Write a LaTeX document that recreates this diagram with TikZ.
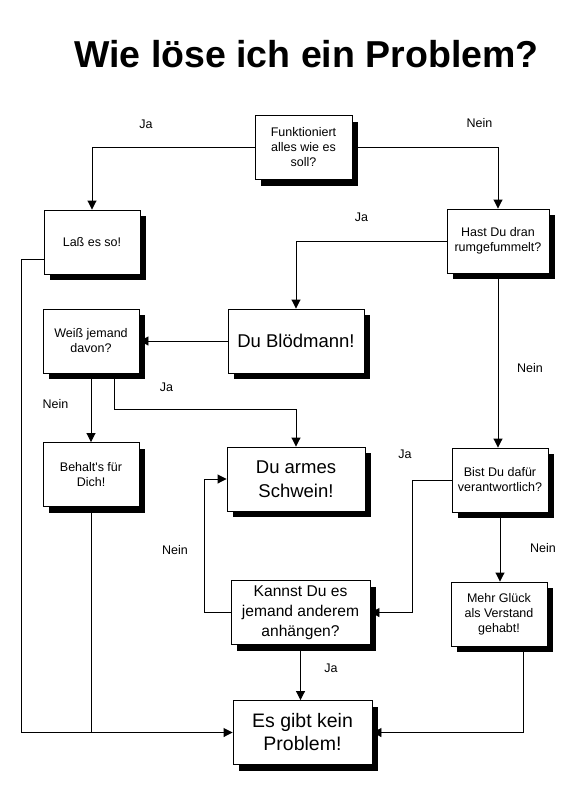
\documentclass[tikz,border=0pt]{standalone}
\usepackage{fontspec}
\setmainfont{Liberation Sans}
\usetikzlibrary{arrows.meta,shadows,calc}

\begin{document}
\begin{tikzpicture}[
  x=1pt, y=-1pt,
  line width=0.9pt,
  box/.style={draw, fill=white, align=center, minimum width=96pt,
              minimum height=64pt, inner sep=2pt,
              font=\fontsize{12.5}{15}\selectfont,
              drop shadow={shadow xshift=6pt, shadow yshift=-6pt,
                           fill=black, opacity=1}},
  bigbox/.style={box, minimum width=138pt, font=\fontsize{18.5}{24}\selectfont},
  lbl/.style={font=\fontsize{12.5}{15}\selectfont, inner sep=0pt},
  >={Triangle[length=9pt,width=9pt]}
]
\useasboundingbox (0,0) rectangle (579,812);

\node[font=\fontsize{37.5}{45}\selectfont\bfseries, anchor=base] (title)
  at (306.5,67) {Wie löse ich ein Problem?};

\node[box, minimum width=97pt] (funk) at (303.5,147.5) {Funktioniert\\alles wie es\\soll?};
\node[box] (lass) at (92,242) {Laß es so!};
\node[box, minimum width=102pt] (hast) at (498,241) {Hast Du dran\\rumgefummelt?};
\node[bigbox, minimum width=136pt] (bloed) at (296,341) {Du Blödmann!};
\node[box] (weiss) at (91,341) {Weiß jemand\\davon?};
\node[box] (behalt) at (91,474.5) {Behalt\textquotesingle s für\\Dich!};
\node[bigbox] (armes) at (296,479) {Du armes\\Schwein!};
\node[box] (bist) at (500,480) {Bist Du dafür\\verantwortlich?};
\node[bigbox, minimum width=139pt, font=\fontsize{15.6}{20}\selectfont] (kannst)
  at (300.5,612.5) {Kannst Du es\\jemand anderem\\anhängen?};
\node[box] (mehr) at (499,614) {Mehr Glück\\als Verstand\\gehabt!};
\node[bigbox, minimum width=139pt, font=\fontsize{19.5}{23}\selectfont] (problem)
  at (302.5,732.5) {Es gibt kein\\Problem!};

\draw[->] (funk.west) -| (lass.north);
\draw[->] (funk.east) -| (hast.north);
\draw[->] (hast.west) -| (bloed.north);
\draw[->] (hast.south) -- (hast.south |- bist.north);
\draw[->] (bloed.west) -- (weiss.east);
\draw[->] (weiss.south) -- (behalt.north);
\draw[->] ($(weiss.south)+(23,0)$) -- ++(0,36) -| (armes.north);
\draw[->] ($(lass.west)+(0,17)$) -- ++(-22,0) |- (problem.west);
\draw (behalt.south) -- (behalt.south |- problem.west);
\draw[->] (bist.west) -- ++(-39,0) |- (kannst.east);
\draw[->] (kannst.west) -- ++(-26,0) |- (armes.west);
\draw[->] (kannst.south) -- (kannst.south |- problem.north);
\draw[->] (bist.south) -- (bist.south |- mehr.north);
\draw[->] ($(mehr.south)+(24,0)$) |- (problem.east);

\node[lbl] (ja1) at (146,124) {Ja};
\node[lbl] (nein1) at (479.5,123.5) {Nein};
\node[lbl] (ja2) at (361.5,217.5) {Ja};
\node[lbl] (nein2) at (530,368) {Nein};
\node[lbl] (nein3) at (55.5,404) {Nein};
\node[lbl] (ja3) at (166.5,387.5) {Ja};
\node[lbl] (ja4) at (405,454) {Ja};
\node[lbl] (nein4) at (543,548) {Nein};
\node[lbl] (nein5) at (175,550) {Nein};
\node[lbl] (ja5) at (331,668.5) {Ja};
\end{tikzpicture}
\end{document}
